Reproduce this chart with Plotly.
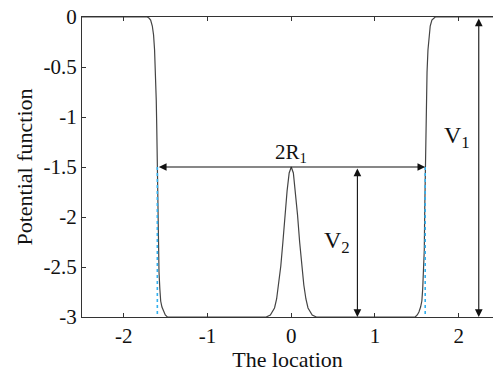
import plotly.graph_objects as go

# Potential curve
curve_x = [-2.50, -1.72, -1.70, -1.68, -1.66, -1.645, -1.633, -1.622, -1.613, -1.607, -1.601,
           -1.595, -1.589, -1.580, -1.570, -1.560, -1.545, -1.525, -1.505, -1.48,
           -0.35, -0.30, -0.25, -0.20, -0.175, -0.15, -0.125, -0.10, -0.075, -0.05, -0.025, 0.0,
           0.025, 0.05, 0.075, 0.10, 0.125, 0.15, 0.175, 0.20, 0.25, 0.30, 0.35,
           1.48, 1.505, 1.525, 1.545, 1.560, 1.570, 1.580, 1.589, 1.595,
           1.601, 1.607, 1.613, 1.622, 1.633, 1.645, 1.66, 1.68, 1.70, 1.72, 2.50]
curve_y = [0.0, 0.0, -0.01, -0.03, -0.09, -0.18, -0.33, -0.55, -0.83, -1.10, -1.50,
           -1.90, -2.33, -2.55, -2.72, -2.84, -2.90, -2.95, -2.98, -3.0,
           -3.0, -3.0, -2.98, -2.91, -2.82, -2.68, -2.49, -2.25, -1.98, -1.74, -1.56, -1.5,
           -1.56, -1.74, -1.98, -2.25, -2.49, -2.68, -2.82, -2.91, -2.98, -3.0, -3.0,
           -3.0, -2.98, -2.95, -2.90, -2.84, -2.72, -2.55, -2.33, -1.90,
           -1.50, -1.10, -0.83, -0.55, -0.33, -0.18, -0.09, -0.03, -0.01, 0.0, 0.0]

# Dotted radius markers
radius_x = [-1.6, 1.6]
radius_y = [-1.5, -3.0]

# Dimension arrows
r_arrow = {"x0": -1.6, "x1": 1.6, "y": -1.5}
v2_arrow = {"x": 0.79, "y0": -1.5, "y1": -3.0}
v1_arrow = {"x": 2.24, "y0": 0.0, "y1": -3.0}

x_ticks = [-2, -1, 0, 1, 2]
x_ticktext = ["-2", "-1", "0", "1", "2"]
y_ticks = [0, -0.5, -1, -1.5, -2, -2.5, -3]
y_ticktext = ["0", "-0.5", "-1", "-1.5", "-2", "-2.5", "-3"]

FONT = "Liberation Serif"
AXC = "#333333"

fig = go.Figure()
fig.add_trace(go.Scatter(x=curve_x, y=curve_y, mode="lines",
                         line=dict(color="#444444", width=1.2), showlegend=False))
for xv in radius_x:
    fig.add_trace(go.Scatter(x=[xv, xv], y=radius_y, mode="lines",
                             line=dict(color="#33b0ee", width=1.6, dash="dot"),
                             showlegend=False))

def arrow(x0, y0, x1, y1):
    fig.add_annotation(x=x1, y=y1, ax=x0, ay=y0, xref="x", yref="y", axref="x", ayref="y",
                       showarrow=True, arrowhead=2, arrowside="end+start", arrowsize=1.4,
                       arrowwidth=1.1, arrowcolor="#111111", text="", standoff=0, startstandoff=0)

arrow(r_arrow["x0"], r_arrow["y"], r_arrow["x1"], r_arrow["y"])
arrow(v2_arrow["x"], v2_arrow["y0"], v2_arrow["x"], v2_arrow["y1"])
arrow(v1_arrow["x"], v1_arrow["y0"], v1_arrow["x"], v1_arrow["y1"])

fig.add_annotation(x=0.0, y=-1.36, text="2R<sub>1</sub>", showarrow=False,
                   font=dict(family=FONT, size=21, color="#111111"))
fig.add_annotation(x=0.55, y=-2.25, text="V<sub>2</sub>", showarrow=False,
                   font=dict(family=FONT, size=24, color="#111111"))
fig.add_annotation(x=1.98, y=-1.2, text="V<sub>1</sub>", showarrow=False,
                   font=dict(family=FONT, size=24, color="#111111"))

fig.update_layout(
    width=493, height=372,
    margin=dict(l=82, r=0, t=17, b=55),
    paper_bgcolor="white", plot_bgcolor="white",
    font=dict(family=FONT, size=21, color="#111111"),
    xaxis=dict(range=[-2.5, 2.41], tickvals=x_ticks, ticktext=x_ticktext,
               showline=True, linecolor=AXC, linewidth=1, mirror="ticks",
               ticks="inside", ticklen=4, tickcolor=AXC, showgrid=False, zeroline=False,
               tickfont=dict(size=21),
               title=dict(text="The location", standoff=0, font=dict(size=22))),
    yaxis=dict(range=[-3, 0], tickvals=y_ticks, ticktext=y_ticktext,
               showline=True, linecolor=AXC, linewidth=1, mirror=False,
               ticks="inside", ticklen=4, tickcolor=AXC, showgrid=False, zeroline=False,
               tickfont=dict(size=21),
               title=dict(text="Potential function", standoff=4, font=dict(size=22))),
)

fig.write_html("out.html")
